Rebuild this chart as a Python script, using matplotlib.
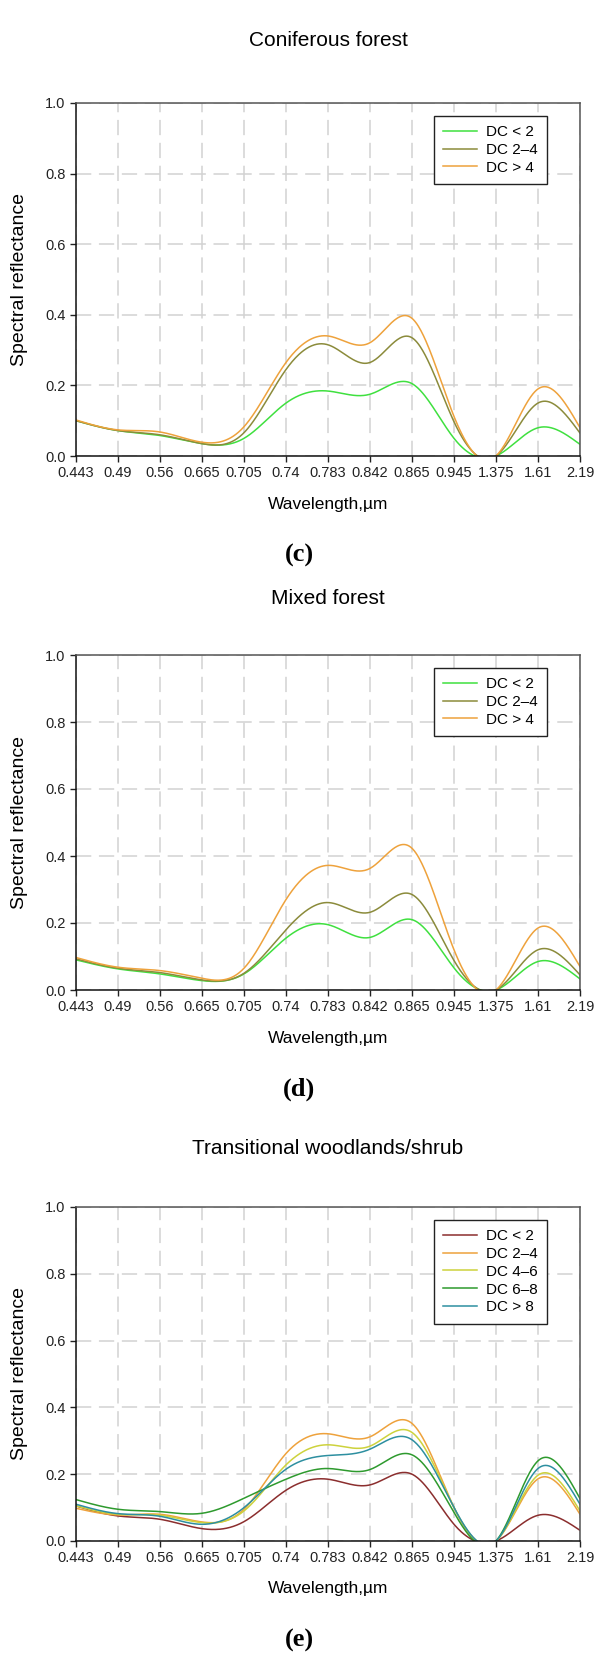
import numpy as np
import matplotlib
matplotlib.use("Agg")
import matplotlib.pyplot as plt

plt.rcParams['font.family'] = ['Liberation Sans', 'DejaVu Sans']

# band centres (um) used as categorical x axis
waves = ['0.443', '0.49', '0.56', '0.665', '0.705', '0.74', '0.783',
         '0.842', '0.865', '0.945', '1.375', '1.61', '2.19']

# (c) Coniferous forest
con_lt2 = [0.100, 0.072, 0.058, 0.035, 0.050, 0.150, 0.184, 0.175, 0.205, 0.050, 0.0, 0.080, 0.033]
con_2_4 = [0.100, 0.072, 0.060, 0.035, 0.066, 0.245, 0.315, 0.265, 0.335, 0.097, 0.0, 0.150, 0.065]
con_gt4 = [0.102, 0.074, 0.068, 0.039, 0.083, 0.265, 0.340, 0.321, 0.390, 0.112, 0.0, 0.190, 0.080]

# (d) Mixed forest
mix_lt2 = [0.090, 0.063, 0.048, 0.028, 0.048, 0.155, 0.195, 0.157, 0.210, 0.066, 0.0, 0.085, 0.033]
mix_2_4 = [0.093, 0.065, 0.052, 0.030, 0.050, 0.180, 0.261, 0.232, 0.285, 0.088, 0.0, 0.120, 0.045]
mix_gt4 = [0.097, 0.068, 0.058, 0.035, 0.065, 0.270, 0.372, 0.363, 0.423, 0.120, 0.0, 0.185, 0.070]

# (e) Transitional woodlands/shrub
tr_lt2 = [0.105, 0.075, 0.065, 0.037, 0.058, 0.152, 0.185, 0.168, 0.200, 0.050, 0.0, 0.077, 0.032]
tr_2_4 = [0.098, 0.078, 0.080, 0.057, 0.095, 0.262, 0.321, 0.312, 0.352, 0.100, 0.0, 0.186, 0.080]
tr_4_6 = [0.105, 0.080, 0.077, 0.055, 0.090, 0.228, 0.288, 0.284, 0.325, 0.100, 0.0, 0.197, 0.090]
tr_6_8 = [0.124, 0.095, 0.088, 0.083, 0.128, 0.185, 0.217, 0.214, 0.258, 0.085, 0.0, 0.240, 0.127]
tr_gt8 = [0.110, 0.082, 0.074, 0.050, 0.100, 0.215, 0.256, 0.275, 0.303, 0.100, 0.0, 0.217, 0.110]

labels3 = ['DC < 2', 'DC 2\u20134', 'DC > 4']
colors3 = ['#3fe03f', '#8b8b3b', '#eea23c']
labels5 = ['DC < 2', 'DC 2\u20134', 'DC 4\u20136', 'DC 6\u20138', 'DC > 8']
colors5 = ['#8b2e2e', '#eea23c', '#cdd23c', '#2e9a2e', '#2d8fa0']


def natural_spline(y, n=600):
    # smooth curve through the points (like the original spline plot)
    y = np.asarray(y, float)
    x = np.arange(len(y), dtype=float)
    m = len(x)
    A = np.zeros((m, m))
    b = np.zeros(m)
    A[0, 0] = A[-1, -1] = 1
    for i in range(1, m - 1):
        A[i, i - 1], A[i, i], A[i, i + 1] = 1, 4, 1
        b[i] = 6 * (y[i + 1] - 2 * y[i] + y[i - 1])
    M = np.linalg.solve(A, b)
    xs = np.linspace(0, m - 1, n)
    k = np.clip(np.floor(xs).astype(int), 0, m - 2)
    t = xs - k
    ys = ((1 - t) * y[k] + t * y[k + 1]
          + ((1 - t) ** 3 - (1 - t)) * M[k] / 6 + (t ** 3 - t) * M[k + 1] / 6)
    return xs, ys


W, H = 597, 1655
fig = plt.figure(figsize=(W / 100, H / 100), dpi=100)

# title, letter, axes top (px), axes height (px), title offset, series, labels, colours
panels = [
    ('Coniferous forest', '(c)', 103, 353, 62, [con_lt2, con_2_4, con_gt4], labels3, colors3),
    ('Mixed forest', '(d)', 655, 335, 57, [mix_lt2, mix_2_4, mix_gt4], labels3, colors3),
    ('Transitional woodlands/shrub', '(e)', 1207, 334, 59,
     [tr_lt2, tr_2_4, tr_4_6, tr_6_8, tr_gt8], labels5, colors5),
]

left, ax_w = 76, 504
for title, letter, top, ax_h, t_off, series, labels, colors in panels:
    ax = fig.add_axes([left / W, 1 - (top + ax_h) / H, ax_w / W, ax_h / H])
    for vals, lab, col in zip(series, labels, colors):
        xs, ys = natural_spline(vals)
        ax.plot(xs, ys, color=col, lw=1.1, label=lab)

    ax.set_xlim(0, len(waves) - 1)
    ax.set_ylim(0, 1)
    ax.set_xticks(np.arange(len(waves)))
    ax.set_xticklabels(waves)
    ax.set_yticks(np.arange(0, 1.01, 0.2))
    ax.set_yticklabels(['%.1f' % v for v in np.arange(0, 1.01, 0.2)])
    ax.tick_params(labelsize=10.5, direction='out', length=4, width=1, colors='#222222')
    ax.grid(True, color='#d2d2d2', lw=1.1, linestyle=(0, (10, 5)))
    ax.set_axisbelow(True)
    for s in ['left', 'bottom']:
        ax.spines[s].set_color('#111111')
        ax.spines[s].set_linewidth(1.1)
    for s in ['top', 'right']:
        ax.spines[s].set_color('#555555')
        ax.spines[s].set_linewidth(1.1)

    leg = ax.legend(loc='upper right', bbox_to_anchor=(1 - 33 / ax_w, 1 - 13 / ax_h),
                    borderaxespad=0, fontsize=11, frameon=True, fancybox=False,
                    framealpha=1, edgecolor='#222222', handlelength=2.2,
                    handletextpad=0.6, labelspacing=0.25, borderpad=0.6)
    leg.get_frame().set_linewidth(1.0)

    cx = (left + ax_w / 2) / W
    fig.text(cx, 1 - (top - t_off) / H, title, ha='center', va='center', fontsize=15)
    fig.text(cx, 1 - (top + ax_h + 48) / H, 'Wavelength,\u00b5m', ha='center', va='center',
             fontsize=12.5)
    fig.text(20 / W, 1 - (top + ax_h / 2) / H, 'Spectral reflectance', rotation=90,
             ha='center', va='center', fontsize=14)
    fig.text(299 / W, 1 - (top + ax_h + 99) / H, letter, ha='center', va='center',
             fontsize=19, family='Liberation Serif', fontweight='bold')

fig.savefig('out.png', dpi=100)
